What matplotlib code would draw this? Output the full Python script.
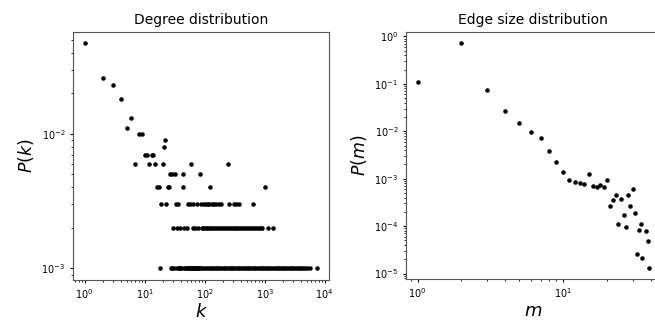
import matplotlib
matplotlib.use("Agg")
import matplotlib.pyplot as plt

# Degree distribution: degrees k grouped by the probability level they sit on
deg_top_k = [1, 2, 3, 4, 5, 6, 8, 9, 21, 22]
deg_top_p = [0.047, 0.026, 0.023, 0.018, 0.011, 0.013, 0.010, 0.010, 0.008, 0.009]
k_p007 = [10, 11, 13, 14]
k_p006 = [7, 12, 15, 20, 59, 244]
k_p005 = [26, 28, 32, 44, 84]
k_p004 = [16, 17, 24, 25, 43, 121, 1012]
k_p003 = [19, 23, 33, 36, 52, 57, 63, 75, 87, 96, 104, 112, 120, 131, 141,
          152, 173, 187, 254, 302, 335, 366, 648]
k_p002 = [30, 34, 39, 45, 51, 64, 70, 77, 89, 95, 101, 108, 115, 123, 133,
          144, 155, 167, 180, 194, 209, 225, 242, 261, 281, 303, 326, 351,
          378, 407, 438, 472, 508, 547, 589, 634, 683, 735, 792, 853, 918,
          1150, 1350]
k_p001 = [18, 27, 29, 31, 35, 37, 38, 40, 41, 46, 48, 49, 53, 54, 55, 56, 60,
          61, 65, 67, 68, 71, 73, 76, 79, 81, 85, 90, 98, 105, 113, 122, 129,
          138, 148, 158, 169, 181, 193, 207, 221, 237, 253, 271, 290, 310,
          332, 355, 380, 406, 435, 465, 498, 533, 570, 610, 653, 699, 748,
          800, 856, 916, 980, 1049, 1122, 1201, 1285, 1375, 1471, 1574, 1684,
          1802, 1928, 2063, 2207, 2362, 2527, 2704, 2893, 3096, 3313, 3545,
          3793, 4058, 4342, 4646, 5100, 5600, 7540]
levels = [(k_p007, 0.007), (k_p006, 0.006), (k_p005, 0.005), (k_p004, 0.004),
          (k_p003, 0.003), (k_p002, 0.002), (k_p001, 0.001)]

# Edge size distribution
edge_m = list(range(1, 36)) + [37, 38, 39]
edge_p = [0.11, 0.72, 0.076, 0.0265, 0.0151, 0.0098, 0.0073, 0.0038, 0.0022,
          0.0014, 0.00093, 0.00085, 0.0008, 0.00078, 0.00126, 0.000695,
          0.00066, 0.00073, 0.00068, 0.00093, 0.00027, 0.00036, 0.00046,
          0.000109, 0.00038, 0.000173, 0.000096, 0.00046, 0.00027, 0.00061,
          0.000188, 0.000026, 0.000084, 0.000109, 0.0000217, 0.00008,
          0.000049, 0.0000132]

k_all = list(deg_top_k)
p_all = list(deg_top_p)
for ks, p in levels:
    k_all += ks
    p_all += [p] * len(ks)

fig = plt.figure(figsize=(6.55, 3.2), dpi=100)
ax1 = fig.add_axes([0.1115, 0.126, 0.3908, 0.774])
ax2 = fig.add_axes([0.6198, 0.128, 0.389, 0.772])

ax1.loglog(k_all, p_all, 'k.', markersize=4.5)
ax1.set_title('Degree distribution', fontsize=10)
ax1.set_xlabel('$k$', fontsize=13, labelpad=1)
ax1.set_ylabel('$P(k)$', fontsize=12.5)

ax2.loglog(edge_m, edge_p, 'k.', markersize=4.5)
ax2.set_title('Edge size distribution', fontsize=10)
ax2.set_xlabel('$m$', fontsize=13, labelpad=1)
ax2.set_ylabel('$P(m)$', fontsize=12.5)

for ax in (ax1, ax2):
    ax.tick_params(which='major', labelsize=7, length=2.5, pad=3)
    ax.tick_params(which='minor', length=1.5)
    for sp in ax.spines.values():
        sp.set_color('#555555')

fig.savefig('out.png', dpi=100)
